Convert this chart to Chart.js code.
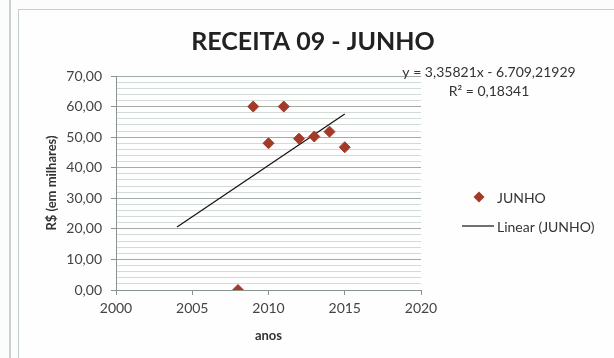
<!DOCTYPE html>
<html>
<head>
<meta charset="utf-8">
<script src="https://cdn.jsdelivr.net/npm/chart.js@4.4.1/dist/chart.umd.min.js"></script>
<style>
  html, body { margin: 0; padding: 0; background: #fbfcfb; }
  #wrap { position: relative; width: 614px; height: 358px; overflow: hidden; }
  #outer { position: absolute; left: 9px; top: 0; width: 2px; height: 358px; background: #c9d2cd; }
  #frame { position: absolute; left: 18px; top: 9px; width: 600px; height: 360px; border: 1px solid #c5cec9; background: #fdfefd; }
  canvas { position: absolute; left: 0; top: 0; }
</style>
</head>
<body>
<div id="wrap">
  <div id="outer"></div>
  <div id="frame"></div>
  <canvas id="c" width="614" height="358"></canvas>
</div>
<script>
// ---- data ----
const years = [2008, 2009, 2010, 2011, 2012, 2013, 2014, 2015];
const junho = [0.00, 60.00, 48.00, 60.00, 49.50, 50.20, 51.80, 46.70];
const trendYears = [2004, 2015];
const trendValues = [20.6, 57.6];
const xTicks = [2000, 2005, 2010, 2015, 2020];
const yTicksMajor = [0, 10, 20, 30, 40, 50, 60, 70];
const titleText = 'RECEITA 09 - JUNHO';
const equationText = 'y = 3,35821x - 6.709,21929';
const r2Text = 'R² = 0,18341';
const seriesName = 'JUNHO';
const trendName = 'Linear (JUNHO)';

const FONT = 'Lato, "Open Sans", sans-serif';
const markerColor = '#a33a28';

const overlay = {
  id: 'overlay',
  afterDraw(chart) {
    const ctx = chart.ctx;
    ctx.save();
    ctx.textBaseline = 'middle';
    ctx.textAlign = 'center';
    ctx.fillStyle = '#222';
    ctx.font = 'bold 25px ' + FONT;
    ctx.fillText(titleText, 313, 42);
    ctx.fillStyle = '#333';
    ctx.font = '14px ' + FONT;
    ctx.fillText(equationText, 489, 72);
    ctx.fillText(r2Text, 489, 91);
    // legend
    const d0 = chart.data.datasets[0];
    const d1 = chart.data.datasets[1];
    ctx.textAlign = 'left';
    ctx.fillStyle = d0.backgroundColor;
    ctx.beginPath();
    const cx = 479, cy = 197, r = 5.5;
    ctx.moveTo(cx, cy - r); ctx.lineTo(cx + r, cy); ctx.lineTo(cx, cy + r); ctx.lineTo(cx - r, cy); ctx.closePath();
    ctx.fill();
    ctx.fillStyle = '#333';
    ctx.fillText(d0.label, 497, 198);
    ctx.strokeStyle = d1.borderColor;
    ctx.lineWidth = 1.2;
    ctx.beginPath(); ctx.moveTo(462, 226); ctx.lineTo(494, 226); ctx.stroke();
    ctx.fillText(d1.label, 497, 227);
    ctx.restore();
  }
};

new Chart(document.getElementById('c'), {
  type: 'scatter',
  data: {
    datasets: [
      {
        label: seriesName,
        data: years.map((x, i) => ({ x: x, y: junho[i] })),
        backgroundColor: markerColor,
        borderColor: markerColor,
        pointStyle: 'rectRot',
        pointRadius: 5.5,
        pointHoverRadius: 5.5,
        showLine: false,
        order: 1
      },
      {
        label: trendName,
        data: trendYears.map((x, i) => ({ x: x, y: trendValues[i] })),
        borderColor: '#111',
        borderWidth: 1.2,
        pointRadius: 0,
        showLine: true,
        fill: false,
        order: 2
      }
    ]
  },
  options: {
    responsive: false,
    animation: false,
    events: [],
    layout: { padding: { left: 40, right: 193, top: 76, bottom: 14 } },
    plugins: {
      legend: { display: false },
      tooltip: { enabled: false },
      title: { display: false }
    },
    scales: {
      x: {
        type: 'linear',
        min: xTicks[0],
        max: xTicks[xTicks.length - 1],
        afterBuildTicks: (s) => { s.ticks = xTicks.map(v => ({ value: v })); },
        ticks: { color: '#444', font: { family: FONT, size: 14 }, padding: 5, callback: v => String(v) },
        grid: { drawOnChartArea: false, drawTicks: true, tickLength: 5, color: '#8a948e' },
        border: { color: '#8a948e', width: 1 },
        title: { display: true, text: 'anos', color: '#333', font: { family: FONT, size: 13, weight: 'bold' }, padding: { top: 4, bottom: 0 } },
        afterFit: (s) => { s.height = 54; }
      },
      y: {
        min: 0,
        max: 70,
        ticks: {
          stepSize: 2,
          autoSkip: false,
          color: '#444',
          font: { family: FONT, size: 14 },
          padding: 9,
          callback: v => (yTicksMajor.includes(v) ? v.toFixed(2).replace('.', ',') : '')
        },
        grid: {
          color: (c) => (c.tick && c.tick.value % 10 === 0 ? '#a3aca6' : '#d3dbd6'),
          tickColor: (c) => (c.tick && c.tick.value % 10 === 0 ? '#8a948e' : 'rgba(0,0,0,0)'),
          tickLength: 5,
          lineWidth: 1
        },
        border: { color: '#8a948e', width: 1 },
        title: { display: true, text: 'R$ (em milhares)', color: '#333', font: { family: FONT, size: 13, weight: 'bold' }, padding: { top: 4, bottom: 4 } },
        afterFit: (s) => { s.width = 76; }
      }
    }
  },
  plugins: [overlay]
});
</script>
</body>
</html>
